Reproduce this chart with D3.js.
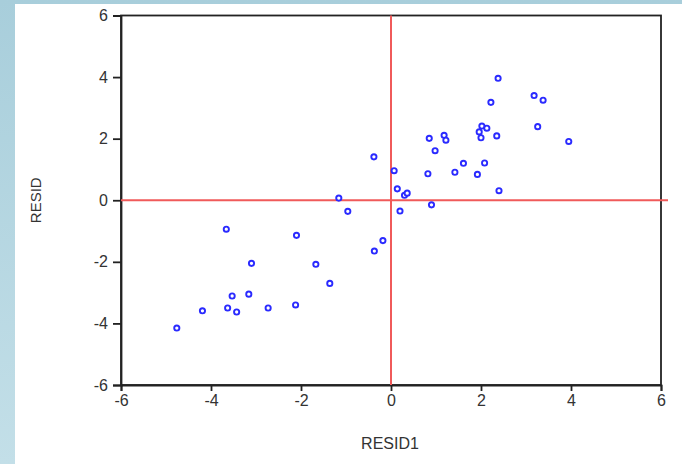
<!DOCTYPE html>
<html>
<head>
<meta charset="utf-8">
<script src="https://cdn.jsdelivr.net/npm/d3@7.9.0/dist/d3.min.js"></script>
<style>
  html, body { margin: 0; padding: 0; background: #fff; }
  svg { display: block; }
  text { font-family: "Liberation Sans", Arial, sans-serif; fill: #333; }
</style>
</head>
<body>
<svg id="chart" width="682" height="464"></svg>
<script>
// residual pairs
const resid1 = [2.38, 3.18, 3.38, 2.22, 2.02, 2.13, 1.96, 3.26, 2.35, 2.00,
                0.85, 1.18, 1.22, 3.95, 0.98, 1.61, 2.08, 1.42, 0.82, 1.92,
                2.40, 0.90, -0.38, 0.07, 0.14, 0.30, 0.36, -1.16, -0.96, 0.20,
                -0.18, -0.37, -3.66, -2.10, -3.10, -1.67, -1.36, -3.53, -3.16, -4.19,
                -3.63, -3.43, -2.73, -2.12, -4.76];
const resid = [3.96, 3.40, 3.25, 3.18, 2.41, 2.34, 2.22, 2.39, 2.09, 2.03,
               2.01, 2.11, 1.95, 1.91, 1.61, 1.20, 1.21, 0.91, 0.86, 0.84,
               0.31, -0.15, 1.41, 0.96, 0.37, 0.16, 0.23, 0.07, -0.36, -0.35,
               -1.31, -1.65, -0.94, -1.14, -2.05, -2.08, -2.70, -3.11, -3.05, -3.59,
               -3.50, -3.63, -3.50, -3.40, -4.15];
const xTicks = [-6, -4, -2, 0, 2, 4, 6];
const yTicks = [-6, -4, -2, 0, 2, 4, 6];

const svg = d3.select('#chart');

// light blue frame on the left and top
const grad = svg.append('defs').append('linearGradient')
    .attr('id', 'band').attr('x1', 0).attr('y1', 0).attr('x2', 0).attr('y2', 1);
grad.append('stop').attr('offset', '0%').attr('stop-color', '#a8cedb');
grad.append('stop').attr('offset', '100%').attr('stop-color', '#c3dfe8');
svg.append('rect').attr('width', 682).attr('height', 464).attr('fill', 'url(#band)');
svg.append('rect').attr('x', 15).attr('y', 4).attr('width', 667).attr('height', 460).attr('fill', '#fff');

const x = d3.scaleLinear().domain([-6, 6]).range([121, 661]);
const y = d3.scaleLinear().domain([-6, 6]).range([385, 15.5]);

// box
svg.append('rect')
    .attr('x', x(-6)).attr('y', y(6))
    .attr('width', x(6) - x(-6)).attr('height', y(-6) - y(6))
    .attr('fill', 'none').attr('stroke', '#222').attr('stroke-width', 1.8);

// axes
const xAxis = svg.append('g')
    .attr('transform', `translate(0,${y(-6)})`)
    .call(d3.axisBottom(x).tickValues(xTicks).tickSize(6).tickPadding(4).tickFormat(d3.format('d')));
const yAxis = svg.append('g')
    .attr('transform', `translate(${x(-6)},0)`)
    .call(d3.axisLeft(y).tickValues(yTicks).tickSize(8).tickPadding(5).tickFormat(d3.format('d')));

[xAxis, yAxis].forEach(g => {
    g.select('.domain').attr('stroke', '#222').attr('stroke-width', 1.8);
    g.selectAll('.tick line').attr('stroke', '#222').attr('stroke-width', 1.8);
    g.selectAll('.tick text')
        .style('font-size', '16px')
        .style('font-family', '"Liberation Sans", Arial, sans-serif')
        .attr('fill', '#3a3a3a');
});
// d3 uses a true minus sign; the picture shows a hyphen
svg.selectAll('.tick text').text(d => String(d));

// zero lines
svg.append('line')
    .attr('x1', x(0)).attr('x2', x(0)).attr('y1', y(6)).attr('y2', y(-6))
    .attr('stroke', '#f05a5a').attr('stroke-width', 2);
svg.append('line')
    .attr('x1', x(-6)).attr('x2', 668).attr('y1', y(0)).attr('y2', y(0))
    .attr('stroke', '#f05a5a').attr('stroke-width', 2);

// points
svg.append('g').selectAll('circle')
    .data(resid1.map((d, i) => ({ x: d, y: resid[i] })))
    .join('circle')
    .attr('cx', d => x(d.x))
    .attr('cy', d => y(d.y))
    .attr('r', 2.6)
    .attr('fill', '#fff')
    .attr('stroke', '#2a2aff')
    .attr('stroke-width', 1.9);

// axis titles
svg.append('text')
    .attr('x', (x(-6) + x(6)) / 2 - 1).attr('y', 449)
    .attr('text-anchor', 'middle')
    .style('font-size', '16px')
    .attr('fill', '#3a3a3a')
    .text('RESID1');
svg.append('text')
    .attr('transform', `translate(41,${y(0)}) rotate(-90)`)
    .attr('text-anchor', 'middle')
    .style('font-size', '15px')
    .attr('fill', '#3a3a3a')
    .text('RESID');
</script>
</body>
</html>
